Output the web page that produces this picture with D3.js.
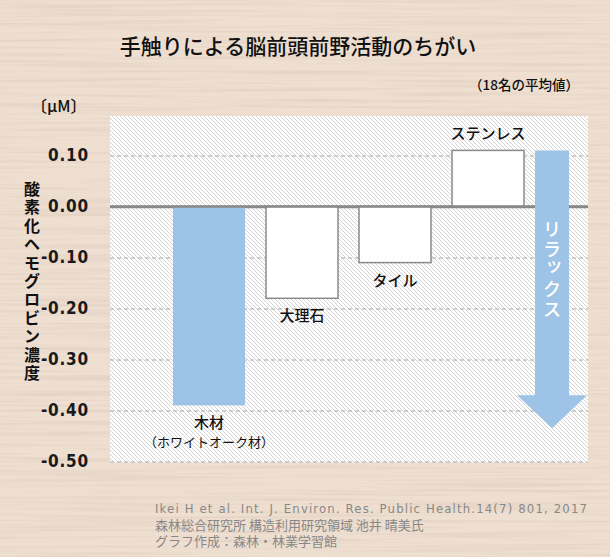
<!DOCTYPE html>
<html>
<head>
<meta charset="utf-8">
<script src="https://cdn.jsdelivr.net/npm/d3@7"></script>
<style>
  body { margin: 0; background: #ecdccd; }
  svg { display: block; }
  text { font-family: "Noto Sans CJK JP", "Noto Sans", sans-serif; }
</style>
</head>
<body>
<svg width="610" height="557"></svg>
<script>
// data
const categories = ["木材", "大理石", "タイル", "ステンレス"];
const subLabels = ["（ホワイトオーク材）", "", "", ""];
const values = [-0.39, -0.18, -0.11, 0.11];
const highlighted = [true, false, false, false];
const yTicks = [0.1, 0, -0.1, -0.2, -0.3, -0.4, -0.5];
const yTickLabels = ["0.10", "0.00", "-0.10", "-0.20", "-0.30", "-0.40", "-0.50"];
const arrowFrom = 0.11, arrowHead = -0.37, arrowTip = -0.435;

const title = "手触りによる脳前頭前野活動のちがい";
const note = "（18名の平均値）";
const unit = "〔μM〕";
const yTitle = "酸素化ヘモグロビン濃度";
const arrowText = "リラックス";
const credits = [
    "Ikei H et al. Int. J. Environ. Res. Public Health.14(7) 801, 2017",
    "森林総合研究所 構造利用研究領域 池井 晴美氏",
    "グラフ作成：森林・林業学習館"
];

let svg = d3.select("svg");
let W = 610, H = 557;
let blue = "#9dc3e6";

let defs = svg.append("defs");
// wood grain
let f = defs.append("filter").attr("id", "wood").attr("x", 0).attr("y", 0).attr("width", "100%").attr("height", "100%");
f.append("feTurbulence").attr("type", "fractalNoise").attr("baseFrequency", "0.005 0.3")
    .attr("numOctaves", 3).attr("seed", 7);
f.append("feColorMatrix").attr("type", "matrix")
    .attr("values", "0 0 0 0 0.72  0 0 0 0 0.58  0 0 0 0 0.48  1.3 0 0 0 -0.55");
// hatch
let p = defs.append("pattern").attr("id", "hatch").attr("patternUnits", "userSpaceOnUse")
    .attr("width", 4).attr("height", 4);
p.append("rect").attr("width", 4).attr("height", 4).attr("fill", "#fff");
p.append("path").attr("d", "M-1,-1L5,5M-1,3L1,5M3,-1L5,1")
    .attr("stroke", "#c9c9c9").attr("stroke-width", 0.8);

svg.append("rect").attr("width", W).attr("height", H).attr("fill", "#eedfd1");
svg.append("rect").attr("width", W).attr("height", H).attr("filter", "url(#wood)");

let panel = {left: 110, right: 588, top: 116};
let y = d3.scaleLinear().domain([-0.5, 0.1]).range([461.5, 155.5]);
let x = d3.scaleBand().domain(categories).range([173, 524]).paddingInner(0.226).paddingOuter(0);

svg.append("rect")
    .attr("x", panel.left).attr("y", panel.top)
    .attr("width", panel.right - panel.left).attr("height", y(-0.5) - panel.top + 1)
    .attr("fill", "url(#hatch)");

// grid
let yAxis = d3.axisLeft(y).tickValues(yTicks)
    .tickSize(-(panel.right - panel.left)).tickPadding(21)
    .tickFormat(function(d, i) { return yTickLabels[i]; });
let ga = svg.append("g").attr("transform", "translate(" + panel.left + ",0)").call(yAxis);
ga.select(".domain").remove();
ga.selectAll(".tick line")
    .attr("stroke", function(d) { return d == 0 ? "#888" : "#a8a8a8"; })
    .attr("stroke-width", function(d) { return d == 0 ? 2.5 : 1; })
    .attr("stroke-dasharray", function(d) { return d == 0 ? null : "4,3"; });
ga.selectAll(".tick text")
    .attr("fill", "#1a1a1a")
    .style("font-family", "'Liberation Sans Narrow', 'DejaVu Sans Condensed', sans-serif")
    .style("font-weight", "bold").style("font-size", "17px").style("letter-spacing", "0.8px");

// bars
let data = categories.map(function(c, i) {
    return {cat: c, sub: subLabels[i], v: values[i], hi: highlighted[i]};
});
svg.selectAll("rect.bar").data(data).enter().append("rect")
    .attr("class", "bar")
    .attr("x", function(d) { return x(d.cat); })
    .attr("width", x.bandwidth())
    .attr("y", function(d) { return y(Math.max(0, d.v)); })
    .attr("height", function(d) { return Math.abs(y(d.v) - y(0)); })
    .attr("fill", function(d) { return d.hi ? blue : "#fff"; })
    .attr("stroke", function(d) { return d.hi ? "none" : "#8a8a8a"; })
    .attr("stroke-width", 1.5);

// redraw zero line over bars
svg.append("line").attr("x1", panel.left).attr("x2", panel.right)
    .attr("y1", y(0)).attr("y2", y(0)).attr("stroke", "#888").attr("stroke-width", 2.5);

let lab = svg.selectAll("g.lab").data(data).enter().append("g").attr("class", "lab");
lab.append("text")
    .attr("x", function(d) { return x(d.cat) + x.bandwidth() / 2; })
    .attr("y", function(d) { return d.v < 0 ? y(d.v) + 23 : y(d.v) - 11; })
    .attr("text-anchor", "middle").attr("fill", "#111")
    .style("font-size", "15px").style("font-weight", 500)
    .text(function(d) { return d.cat; });
lab.filter(function(d) { return d.sub; }).append("text")
    .attr("x", function(d) { return x(d.cat) + x.bandwidth() / 2; })
    .attr("y", function(d) { return y(d.v) + 42; })
    .attr("text-anchor", "middle").attr("fill", "#111")
    .style("font-size", "13px")
    .text(function(d) { return d.sub; });

// relax arrow
let ax = 552, shaft = 17, head = 35;
svg.append("path")
    .attr("d", "M" + (ax - shaft) + "," + y(arrowFrom) +
        "L" + (ax + shaft) + "," + y(arrowFrom) +
        "L" + (ax + shaft) + "," + y(arrowHead) +
        "L" + (ax + head) + "," + y(arrowHead) +
        "L" + ax + "," + y(arrowTip) +
        "L" + (ax - head) + "," + y(arrowHead) +
        "L" + (ax - shaft) + "," + y(arrowHead) + "Z")
    .attr("fill", blue);
svg.selectAll("text.relax").data(arrowText.split("")).enter().append("text")
    .attr("class", "relax")
    .attr("x", function(d) { return d == "ッ" ? ax + 2 : ax; })
    .attr("y", function(d, i) { return (d == "ッ" ? 232 : 236) + i * 20; })
    .attr("text-anchor", "middle").attr("fill", "#fff")
    .style("font-size", "18px").style("font-weight", 500)
    .text(function(d) { return d; });

// titles
svg.append("text").attr("x", 298).attr("y", 54).attr("text-anchor", "middle")
    .attr("fill", "#111").style("font-size", "21px").style("font-weight", 500).text(title);
svg.append("text").attr("x", 579).attr("y", 90).attr("text-anchor", "end")
    .attr("fill", "#111").style("font-size", "13.5px").style("font-weight", 500).text(note);
svg.append("text").attr("x", 31).attr("y", 112)
    .attr("fill", "#111").style("font-size", "16px").style("font-weight", 500).text(unit);
svg.selectAll("text.ytitle").data(yTitle.split("")).enter().append("text")
    .attr("class", "ytitle")
    .attr("x", 32).attr("y", function(d, i) { return 195 + i * 18.4; })
    .attr("text-anchor", "middle").attr("fill", "#111")
    .style("font-size", "16px").style("font-weight", "bold")
    .text(function(d) { return d; });

// credits
svg.selectAll("text.credit").data(credits).enter().append("text")
    .attr("class", "credit")
    .attr("x", 155).attr("y", function(d, i) { return 513 + i * 16.5; })
    .attr("fill", "#888")
    .style("font-size", "13px")
    .style("font-family", function(d, i) { return i == 0 ? "'Liberation Sans Narrow', 'DejaVu Sans Condensed', sans-serif" : null; })
    .attr("textLength", function(d, i) { return i == 0 ? 432 : null; })
    .text(function(d) { return d; });
</script>
</body>
</html>
